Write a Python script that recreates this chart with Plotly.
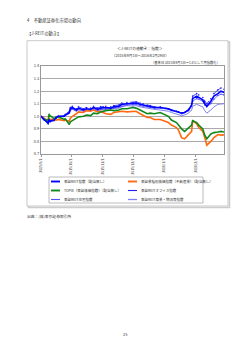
import plotly.graph_objects as go

dates = ["2015-09-01","2015-09-03","2015-09-04","2015-09-07","2015-09-08","2015-09-09","2015-09-10","2015-09-11",
         "2015-09-14","2015-09-16","2015-09-18","2015-09-24","2015-09-25","2015-09-29","2015-09-30","2015-10-02",
         "2015-10-06","2015-10-08","2015-10-13","2015-10-16","2015-10-20","2015-10-23","2015-10-27","2015-10-30",
         "2015-11-04","2015-11-09","2015-11-12","2015-11-17","2015-11-20","2015-11-25","2015-12-01","2015-12-04",
         "2015-12-08","2015-12-11","2015-12-15","2015-12-18","2015-12-22","2015-12-28","2016-01-05","2016-01-08",
         "2016-01-13","2016-01-15","2016-01-18","2016-01-21","2016-01-25","2016-01-28","2016-01-29","2016-02-02",
         "2016-02-04","2016-02-08","2016-02-10","2016-02-12","2016-02-16","2016-02-19","2016-02-23","2016-02-26",
         "2016-02-29"]

reit = [1.0,0.985,0.975,0.96,0.945,0.975,0.96,0.965,0.97,0.99,1.0,1.0,1.01,1.03,1.06,1.07,1.05,1.065,1.05,1.06,
        1.055,1.07,1.055,1.065,1.07,1.065,1.075,1.08,1.095,1.1,1.1,1.105,1.095,1.09,1.08,1.075,1.07,1.07,1.06,1.05,
        1.04,1.035,1.025,1.03,1.05,1.09,1.14,1.16,1.15,1.13,1.1,1.08,1.12,1.16,1.18,1.2,1.19]
realestate = [1.0,0.99,0.985,0.975,0.965,0.985,0.975,0.975,0.97,0.97,0.975,0.965,0.97,0.96,0.985,1.0,1.02,1.035,
              1.03,1.045,1.04,1.05,1.035,1.04,1.02,1.015,1.03,1.035,1.04,1.035,1.035,1.04,1.02,1.005,0.99,0.99,
              0.975,0.975,0.95,0.93,0.91,0.89,0.83,0.82,0.85,0.88,0.965,0.94,0.91,0.88,0.83,0.77,0.8,0.83,0.855,
              0.85,0.852]
topix = [1.0,0.985,0.975,0.97,0.965,1.02,1.0,1.0,0.98,0.995,0.995,0.975,0.98,0.935,0.955,0.965,0.985,0.995,1.0,
         1.01,1.005,1.025,1.02,1.035,1.045,1.05,1.045,1.05,1.06,1.06,1.07,1.065,1.05,1.035,1.02,1.025,1.02,1.03,
         1.0,0.97,0.95,0.93,0.9,0.88,0.91,0.93,0.965,0.95,0.93,0.9,0.85,0.82,0.86,0.87,0.875,0.88,0.875]
office = [1.0,0.98,0.97,0.955,0.94,0.97,0.955,0.96,0.965,0.985,1.0,1.005,1.015,1.04,1.07,1.08,1.06,1.075,1.06,
          1.07,1.065,1.08,1.065,1.075,1.08,1.075,1.085,1.09,1.105,1.11,1.11,1.115,1.105,1.1,1.09,1.085,1.075,
          1.075,1.06,1.05,1.04,1.035,1.02,1.03,1.055,1.1,1.16,1.18,1.17,1.15,1.12,1.1,1.14,1.18,1.21,1.225,1.215]
residential = [1.0,0.99,0.98,0.97,0.96,0.98,0.97,0.975,0.975,0.99,1.0,1.005,1.01,1.025,1.05,1.06,1.045,1.055,
               1.045,1.05,1.05,1.06,1.05,1.055,1.06,1.06,1.065,1.07,1.08,1.09,1.09,1.095,1.085,1.08,1.075,1.07,
               1.065,1.065,1.055,1.045,1.04,1.035,1.025,1.03,1.045,1.08,1.12,1.14,1.135,1.12,1.09,1.075,1.1,
               1.135,1.165,1.175,1.17]
commercial = [1.0,0.99,0.98,0.965,0.955,0.975,0.965,0.97,0.97,0.985,0.995,0.995,1.005,1.02,1.045,1.055,1.04,1.05,
              1.04,1.045,1.045,1.055,1.045,1.05,1.055,1.055,1.06,1.065,1.075,1.085,1.08,1.085,1.075,1.07,1.065,
              1.06,1.055,1.05,1.04,1.03,1.02,1.015,1.005,1.01,1.025,1.05,1.08,1.095,1.09,1.075,1.045,1.025,1.05,
              1.075,1.095,1.1,1.1]

tick_dates = ["2015-09-01","2015-10-01","2015-11-01","2015-12-01","2016-01-01","2016-02-01"]
tick_text = ["2015/9/1","2015/10/1","2015/11/1","2015/12/1","2016/1/1","2016/2/1"]
y_ticks = [0.7,0.8,0.9,1.0,1.1,1.2,1.3,1.4]

names = ["東証REIT指数（配当無し）","東証業種別株価指数（不動産業）（配当無し）",
         "TOPIX（東証株価指数）（配当無し）","東証REITオフィス指数",
         "東証REIT住宅指数","東証REIT商業・物流等指数"]

FONT = "Noto Sans CJK JP"
W, H = 250, 353
L, R, T, B = 41, 224, 66, 154

def px(x):
    return (x - L) / (R - L)

def py(y):
    return (B - y) / (B - T)

series = [
    dict(y=commercial, name=names[5], color="#8080F0", width=1, dash="solid", marker=False),
    dict(y=residential, name=names[4], color="#5050FF", width=0.8, dash="solid", marker=True),
    dict(y=office, name=names[3], color="#2020FF", width=0.8, dash="dash", marker=True),
    dict(y=realestate, name=names[1], color="#FF6A10", width=1.6, dash="solid", marker=False),
    dict(y=topix, name=names[2], color="#11891A", width=1.6, dash="solid", marker=False),
    dict(y=reit, name=names[0], color="#0000FF", width=1.6, dash="solid", marker=False),
]

fig = go.Figure()
for s in series:
    fig.add_trace(go.Scatter(
        x=dates, y=s["y"], name=s["name"], showlegend=False,
        mode="lines+markers" if s["marker"] else "lines",
        line=dict(color=s["color"], width=s["width"], dash=s["dash"]),
        marker=dict(size=1.6, color=s["color"]),
    ))

fig.update_layout(
    width=W, height=H,
    margin=dict(l=L, r=W - R, t=T, b=H - B, pad=0),
    paper_bgcolor="white", plot_bgcolor="white",
    font=dict(family=FONT, size=4, color="#333333"),
    showlegend=False,
)
fig.update_xaxes(
    type="date", range=["2015-09-01", "2016-02-29"],
    tickvals=tick_dates, ticktext=tick_text, tickangle=-90,
    tickfont=dict(size=3.5, color="#444444"),
    showgrid=False, showline=True, linecolor="#999999", linewidth=1, mirror=True,
    ticks="outside", ticklen=2, tickcolor="#999999",
)
fig.update_yaxes(
    range=[0.7, 1.4], tickvals=y_ticks, tickformat=".1f",
    tickfont=dict(size=4, color="#444444"),
    showgrid=True, gridcolor="#AAAAAA", gridwidth=0.8,
    showline=True, linecolor="#999999", linewidth=1, mirror=True,
    ticks="", zeroline=False,
)

shapes = []
shapes.append(dict(type="rect", xref="paper", yref="paper",
                   x0=px(28.5), x1=px(229.5), y0=py(207.5), y1=py(42),
                   line=dict(color="#CCCCCC", width=1.5), fillcolor="rgba(0,0,0,0)", layer="below"))
shapes.append(dict(type="rect", xref="paper", yref="paper",
                   x0=px(27), x1=px(228), y0=py(206), y1=py(40.7),
                   line=dict(color="#BBBBBB", width=0.8), fillcolor="white", layer="below"))
shapes.append(dict(type="rect", xref="paper", yref="paper",
                   x0=px(49), x1=px(203), y0=py(203), y1=py(177),
                   line=dict(color="#AAAAAA", width=0.8), fillcolor="rgba(0,0,0,0)"))

annotations = []
leg_order = [(0, series[5]), (1, series[3]), (2, series[4]),
             (3, series[2]), (4, series[1]), (5, series[0])]
for i, (idx, s) in enumerate(leg_order):
    col = i % 2
    row = i // 2
    x0 = 51 if col == 0 else 128
    yy = 181.5 + row * 9
    shapes.append(dict(type="line", xref="paper", yref="paper",
                       x0=px(x0), x1=px(x0 + 9), y0=py(yy), y1=py(yy),
                       line=dict(color=s["color"], width=s["width"] + 0.3, dash="solid")))
    annotations.append(dict(xref="paper", yref="paper", x=px(x0 + 11), y=py(yy),
                            text=names[idx], showarrow=False, xanchor="left", yanchor="middle",
                            font=dict(size=3.5, color="#333333", family=FONT)))

texts = [
    (25, 21, "4　不動産証券化市場の動向", "left", 4.3),
    (25, 33, "【J-REITの動き】", "left", 4.3),
    (140, 48, "＜J-REITの値動き：指数＞", "center", 3.8),
    (140, 55, "（2015年9月1日～2016年2月29日）", "center", 3.5),
    (222, 62, "（基準日 2015年9月1日＝1.0として再指数化）", "right", 3.3),
    (25, 216, "出典：(株)東京証券取引所", "left", 3.8),
    (125, 334, "25", "center", 4),
]
for x, y, t, anc, sz in texts:
    annotations.append(dict(xref="paper", yref="paper", x=px(x), y=py(y), text=t,
                            showarrow=False, xanchor=anc, yanchor="middle",
                            font=dict(size=sz, color="#333333", family=FONT)))

fig.update_layout(shapes=shapes, annotations=annotations)
fig.write_html("out.html")
